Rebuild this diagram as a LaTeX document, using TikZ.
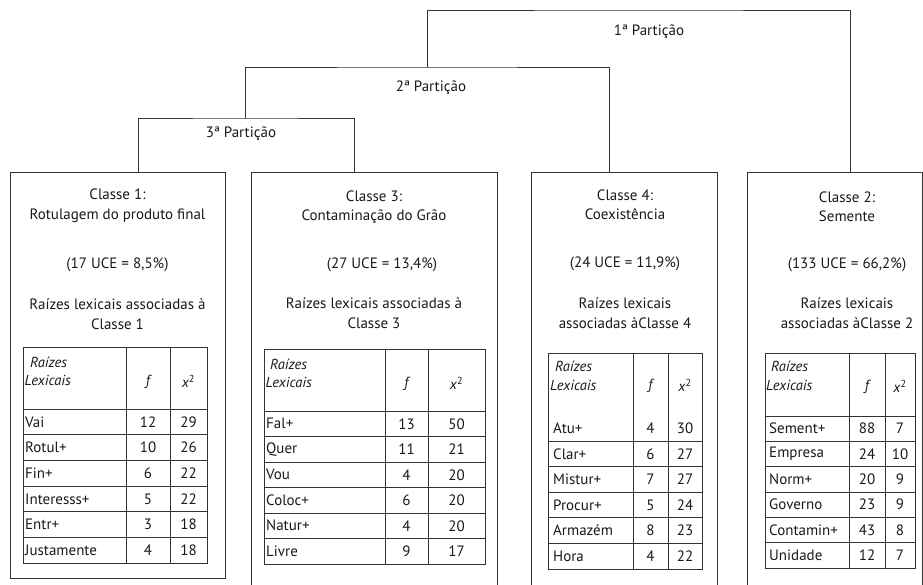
\documentclass[tikz,border=0pt]{standalone}
\usepackage{fontspec}
\setmainfont{PT Sans}
\begin{document}
\begin{tikzpicture}[x=1pt,y=-1pt,
  txt/.style={font=\fontsize{15}{19.5}\selectfont, text=black!90, inner sep=0pt},
  cell/.style={font=\fontsize{15}{16}\selectfont, text=black!90, inner sep=0pt},
  hdr/.style={font=\fontsize{14.5}{16}\selectfont\itshape, text=black!90, inner sep=0pt},
  ln/.style={draw=black!80, line width=0.9pt},
  tl/.style={draw=black!80, line width=0.9pt},
  boxs/.style={draw=black!80, line width=0.9pt, rectangle, inner sep=0pt, anchor=north west}]
\clip (0,0) rectangle (923,585);
% class boxes
\node[boxs, minimum width=215pt, minimum height=406pt] (b1) at (10,172) {};
\node[boxs, minimum width=246pt, minimum height=450pt] (b3) at (251,172) {};
\node[boxs, minimum width=186pt, minimum height=450pt] (b4) at (531,172) {};
\node[boxs, minimum width=175pt, minimum height=450pt] (b2) at (747,172) {};
% tree
\coordinate (k1) at ([xshift=20pt]b1.north);
\coordinate (k3) at ([xshift=-20pt]b3.north);
\coordinate (k4) at ([xshift=-15pt]b4.north);
\coordinate (k2) at ([xshift=15.5pt]b2.north);
\coordinate (h3) at (245.5,118);
\coordinate (h2) at (427,67);
\coordinate (h1) at (638.5,10);
\draw[ln] (k1) |- (h3) -| (k3);
\draw[ln] (h3) |- (h2) -| (k4);
\draw[ln] (h2) |- (h1) -| (k2);
\node[txt] (p1) at (649,32) {1ª Partição};
\node[txt] (p2) at (431,88) {2ª Partição};
\node[txt] (p3) at (241,134) {3ª Partição};
% box texts
\node[txt,align=center] (c1a) at (117.5,206) {Classe 1:\\Rotulagem do produto final};
\node[txt] (c1b) at (117.5,265) {(17 UCE = 8,5\%)};
\node[txt,align=center] (c1c) at (117.5,314) {Raízes lexicais associadas à\\Classe 1};
\node[txt,align=center] (c3a) at (374,207) {Classe 3:\\Contaminação do Grão};
\node[txt] (c3b) at (382,265) {(27 UCE = 13,4\%)};
\node[txt,align=center] (c3c) at (374,313) {Raízes lexicais associadas à\\Classe 3};
\node[txt,align=center] (c4a) at (625,205) {Classe 4:\\Coexistência};
\node[txt] (c4b) at (625,264) {(24 UCE = 11,9\%)};
\node[txt,align=center] (c4c) at (625,313) {Raízes lexicais\\associadas àClasse 4};
\node[txt,align=center] (c2a) at (847,207) {Classe 2:\\Semente};
\node[txt] (c2b) at (847,265) {(133 UCE = 66,2\%)};
\node[txt,align=center] (c2c) at (847,313) {Raízes lexicais\\associadas àClasse 2};
% ---- table 1
\draw[tl] (23,347) rectangle (207,563);
\draw[tl] (126,347) -- (126,563) (170,347) -- (170,563);
\foreach \i in {0,...,5} \draw[tl] (23,{409+25.67*\i}) -- (207,{409+25.67*\i});
\node[hdr,anchor=west] (t1h1) at (30,362) {Raízes};
\node[hdr,anchor=west] (t1h2) at (24.5,380) {Lexicais};
\node[hdr] (t1hf) at (148,382) {f};
\node[hdr] (t1hx) at (188.5,381) {x\textsuperscript{\upshape 2}};
\foreach \w/\f/\x [count=\i] in {Vai/12/29,Rotul+/10/26,Fin+/6/22,Interesss+/5/22,Entr+/3/18,Justamente/4/18}{
  \node[cell,anchor=west] (t1w\i) at (25,{409+25.67*(\i-0.5)}) {\w};
  \node[cell] (t1f\i) at (148,{409+25.67*(\i-0.5)}) {\f};
  \node[cell] (t1x\i) at (188.5,{409+25.67*(\i-0.5)}) {\x};
}
% ---- table 3
\draw[tl] (264,349) rectangle (485,564);
\draw[tl] (385,349) -- (385,564) (428,349) -- (428,564);
\foreach \i in {0,...,5} \draw[tl] (264,{411+25.5*\i}) -- (485,{411+25.5*\i});
\node[hdr,anchor=west] (t3h1) at (270,364) {Raízes};
\node[hdr,anchor=west] (t3h2) at (265.5,382) {Lexicais};
\node[hdr] (t3hf) at (406.5,384) {f};
\node[hdr] (t3hx) at (456.5,383) {x\textsuperscript{\upshape 2}};
\foreach \w/\f/\x [count=\i] in {Fal+/13/50,Quer/11/21,Vou/4/20,Coloc+/6/20,Natur+/4/20,Livre/9/17}{
  \node[cell,anchor=west] (t3w\i) at (266,{411+25.5*(\i-0.5)}) {\w};
  \node[cell] (t3f\i) at (406.5,{411+25.5*(\i-0.5)}) {\f};
  \node[cell] (t3x\i) at (456.5,{411+25.5*(\i-0.5)}) {\x};
}
% ---- table 4
\draw[tl] (548,353) rectangle (702,569);
\draw[tl] (633,353) -- (633,569) (668,353) -- (668,569);
\foreach \i in {1,...,5} \draw[tl] (548,{415.4+25.6*\i}) -- (702,{415.4+25.6*\i});
\node[hdr,anchor=west] (t4h1) at (555,366) {Raízes};
\node[hdr,anchor=west] (t4h2) at (550,385) {Lexicais};
\node[hdr] (t4hf) at (650.5,386) {f};
\node[hdr] (t4hx) at (685,385) {x\textsuperscript{\upshape 2}};
\foreach \w/\f/\x [count=\i] in {Atu+/4/30,Clar+/6/27,Mistur+/7/27,Procur+/5/24,Armazém/8/23,Hora/4/22}{
  \node[cell,anchor=west] (t4w\i) at (553,{415.4+25.6*(\i-0.5)}) {\w};
  \node[cell] (t4f\i) at (650.5,{415.4+25.6*(\i-0.5)}) {\f};
  \node[cell] (t4x\i) at (685,{415.4+25.6*(\i-0.5)}) {\x};
}
% ---- table 2
\draw[tl] (765,353) rectangle (915,568);
\draw[tl] (849,353) -- (849,568) (885,353) -- (885,568);
\foreach \i in {0,...,5} \draw[tl] (765,{416+25.33*\i}) -- (915,{416+25.33*\i});
\node[hdr,anchor=west] (t2h1) at (771,366) {Raízes};
\node[hdr,anchor=west] (t2h2) at (766,385) {Lexicais};
\node[hdr] (t2hf) at (867,387) {f};
\node[hdr] (t2hx) at (900,386) {x\textsuperscript{\upshape 2}};
\foreach \w/\f/\x [count=\i] in {Sement+/88/7,Empresa/24/10,Norm+/20/9,Governo/23/9,Contamin+/43/8,Unidade/12/7}{
  \node[cell,anchor=west] (t2w\i) at (769,{416+25.33*(\i-0.5)}) {\w};
  \node[cell] (t2f\i) at (867,{416+25.33*(\i-0.5)}) {\f};
  \node[cell] (t2x\i) at (900,{416+25.33*(\i-0.5)}) {\x};
}
\end{tikzpicture}
\end{document}
